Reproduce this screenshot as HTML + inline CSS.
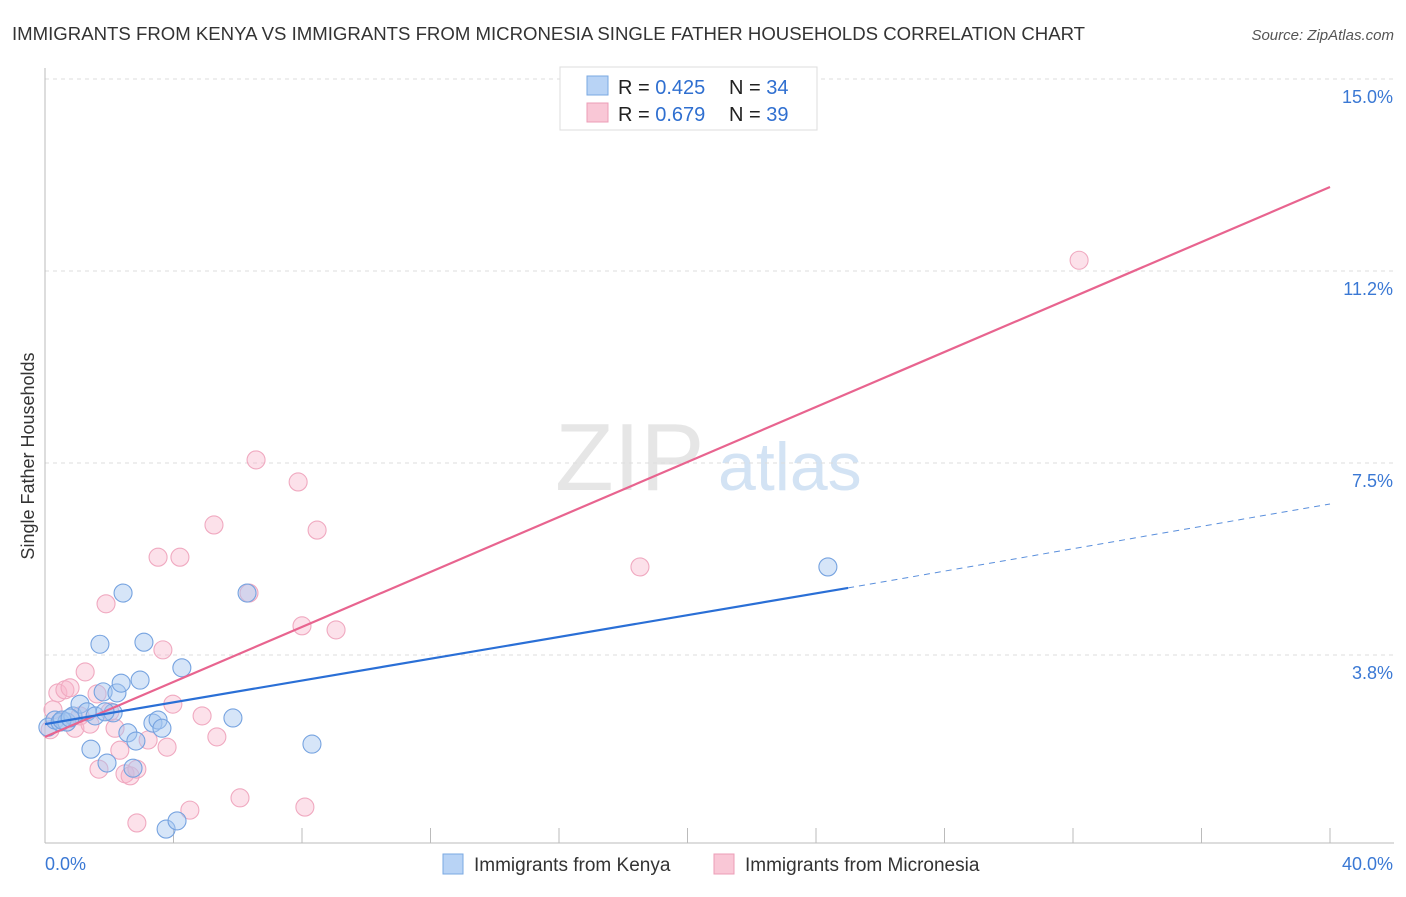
<!DOCTYPE html>
<html><head><meta charset="utf-8">
<style>
body{margin:0;background:#fff;font-family:"Liberation Sans",sans-serif;}
svg text{font-family:"Liberation Sans",sans-serif;}
</style></head>
<body>
<svg id="chart" width="1406" height="892">
<text x="12" y="40" font-size="18.6" fill="#333">IMMIGRANTS FROM KENYA VS IMMIGRANTS FROM MICRONESIA SINGLE FATHER HOUSEHOLDS CORRELATION CHART</text>
<text x="1394" y="40" font-size="15" fill="#555" font-style="italic" text-anchor="end">Source: ZipAtlas.com</text>
<text x="34" y="456" font-size="18" fill="#333" text-anchor="middle" transform="rotate(-90 34 456)">Single Father Households</text>
<text x="555" y="490" font-size="96" fill="#e6e6e6" font-family="Liberation Serif">ZIP</text>
<text x="718" y="490" font-size="68" fill="#d3e3f4">atlas</text>
<g id="grid"></g>
<g id="axes"></g>
<g id="marks"></g>
<g>
<rect x="560" y="67" width="257" height="63" fill="#fff" stroke="#ddd"/>
<rect x="587" y="76" width="21" height="19" fill="#b8d3f5" stroke="#7aa8e2"/>
<rect x="587" y="103" width="21" height="19" fill="#f9c7d6" stroke="#ec9db7"/>
<text x="618" y="94" font-size="20" fill="#222">R = <tspan fill="#2f6fd0">0.425</tspan></text>
<text x="729" y="94" font-size="20" fill="#222">N = <tspan fill="#2f6fd0">34</tspan></text>
<text x="618" y="121" font-size="20" fill="#222">R = <tspan fill="#2f6fd0">0.679</tspan></text>
<text x="729" y="121" font-size="20" fill="#222">N = <tspan fill="#2f6fd0">39</tspan></text>
</g>
<rect x="443" y="854" width="20" height="20" fill="#b8d3f5" stroke="#7aa8e2"/>
<text x="474" y="871" font-size="19" fill="#333">Immigrants from Kenya</text>
<rect x="714" y="854" width="20" height="20" fill="#f9c7d6" stroke="#ec9db7"/>
<text x="745" y="871" font-size="19" fill="#333">Immigrants from Micronesia</text>
</svg>
<script>
const yTicks=[3.75,7.5,11.25,15];
const yTickLabels=["3.8%","7.5%","11.2%","15.0%"];
const xTickVals=[0,4,8,12,16,20,24,28,32,36,40];
const kenyaX=[0.09,0.31,0.47,0.68,0.87,1.09,1.31,1.43,1.71,1.81,1.93,2.12,2.24,2.37,2.43,2.58,2.74,2.83,2.96,3.08,3.36,3.52,3.64,3.77,4.11,4.26,5.85,6.29,8.31,24.37,1.56,0.53,0.78,1.87];
const kenyaY=[2.34,2.48,2.44,2.44,2.56,2.79,2.64,1.91,3.96,3.03,1.64,2.62,3.01,3.20,4.96,2.23,1.54,2.07,3.26,4.00,2.42,2.48,2.32,0.35,0.51,3.50,2.52,4.96,2.01,5.47,2.56,2.48,2.52,2.64];
const micX=[0.16,0.25,0.40,0.62,0.78,0.93,1.09,1.25,1.40,1.62,1.68,1.90,2.02,2.18,2.33,2.49,2.65,2.86,2.86,3.21,3.52,3.67,3.80,3.98,4.20,4.51,4.89,5.26,5.35,6.07,6.35,6.57,7.88,8.00,8.09,8.47,9.06,18.52,32.19];
const micY=[2.29,2.68,3.01,3.07,3.11,2.32,2.56,3.42,2.40,2.99,1.52,4.75,2.64,2.32,1.89,1.43,1.39,1.52,0.47,2.09,5.66,3.85,1.95,2.79,5.66,0.72,2.56,6.29,2.15,0.96,4.96,7.56,7.13,4.32,0.78,6.19,4.24,5.47,11.46];
const kenyaTrend=[2.40,5.06,6.70];
const kenyaTrendX=[0,25,40];
const micTrend=[2.15,12.89];
const micTrendX=[0,40];

const NS="http://www.w3.org/2000/svg";
const X0=45,X1=1330,Y0=847,PPY=51.2;
const sx=v=>X0+(X1-X0)*v/40;
const sy=v=>Y0-v*PPY;
function mk(tag,attrs,parent){const e=document.createElementNS(NS,tag);for(const k in attrs)e.setAttribute(k,attrs[k]);parent.appendChild(e);return e;}
const grid=document.getElementById('grid'),axes=document.getElementById('axes'),marks=document.getElementById('marks');
yTicks.forEach((t,i)=>{
 const l=mk('line',{x1:45,x2:1394,y1:sy(t),y2:sy(t),stroke:'#ddd','stroke-dasharray':'4,4'},grid);
 
 
 const tx=mk('text',{x:1393,y:sy(t)+24,'font-size':18,fill:'#3a78d4','text-anchor':'end'},grid);
 tx.textContent=yTickLabels[i];
 
 
});
const ya=mk('line',{x1:45,x2:45,y1:68,y2:843,stroke:'#bbb'},axes);


const xa=mk('line',{x1:45,x2:1394,y1:843,y2:843,stroke:'#bbb'},axes);


xTickVals.forEach(v=>{
 if(v===0)return;
 const t=mk('line',{x1:sx(v),x2:sx(v),y1:828,y2:843,stroke:'#bbb'},axes);
 
 
});
const xl0=mk('text',{x:45,y:870,'font-size':18,fill:'#3a78d4'},axes);xl0.textContent='0.0%';


const xl1=mk('text',{x:1393,y:870,'font-size':18,fill:'#3a78d4','text-anchor':'end'},axes);xl1.textContent='40.0%';



micX.forEach((x,i)=>{
 const c=mk('circle',{cx:sx(x),cy:sy(micY[i]),r:9,fill:'rgba(247,180,202,0.4)',stroke:'#f0a9c0','stroke-width':1.1},marks);
 
 
});
kenyaX.forEach((x,i)=>{
 const c=mk('circle',{cx:sx(x),cy:sy(kenyaY[i]),r:9,fill:'rgba(165,198,240,0.45)',stroke:'#76a3e0','stroke-width':1.1},marks);
 
 
});
const mt=mk('line',{x1:sx(micTrendX[0]),y1:sy(micTrend[0]),x2:sx(micTrendX[1]),y2:sy(micTrend[1]),stroke:'#e8648f','stroke-width':2.2},marks);


const kt=mk('line',{x1:sx(kenyaTrendX[0]),y1:sy(kenyaTrend[0]),x2:sx(kenyaTrendX[1]),y2:sy(kenyaTrend[1]),stroke:'#2a6fd6','stroke-width':2.2},marks);


const kd=mk('line',{x1:sx(kenyaTrendX[1]),y1:sy(kenyaTrend[1]),x2:sx(kenyaTrendX[2]),y2:sy(kenyaTrend[2]),stroke:'#5a8fdc','stroke-width':1,'stroke-dasharray':'6,5'},marks);


</script>
</body></html>
